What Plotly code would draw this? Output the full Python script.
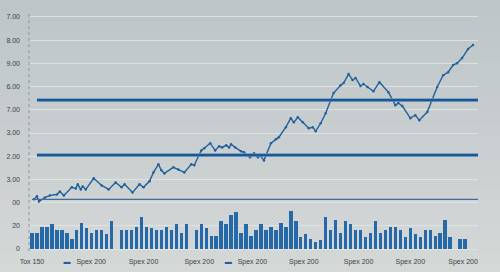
import plotly.graph_objects as go

# ---------------- data ----------------
y_tick_vals = [0, 1, 2, 3, 4, 5, 6, 7, 8, 9, 10]
y_tick_text = ["0", "20", "00", "3.00", "2.00", "3.00", "7.00", "6.00", "9.00", "8.00", "7.00"]

x_tick_vals = [0, 53, 112, 168, 215, 273, 328, 380, 433]
x_tick_text = ["Tox 150", "<span style='color:#1f5f9a'>\u25ac</span>   Spex 200", "Spex 200", "Spex 200",
               "<span style='color:#1f5f9a'>\u25ac</span>   Spex 200", "Spex 200", "Spex 200", "Spex 200", "Spex 200"]

line_days = [2, 5, 7, 13, 18, 25, 28, 32, 40, 44, 46, 49, 51, 54, 62, 70, 77, 84, 90, 93,
             101, 108, 112, 118, 122, 127, 130, 133, 142, 147, 153, 160, 163, 170, 173, 179, 184, 188, 191, 195,
             198, 200, 204, 210, 213, 219, 223, 227, 229, 233, 240, 245, 248, 255, 260, 263, 267, 272, 278, 282,
             285, 290, 295, 300, 303, 310, 313, 318, 322, 325, 330, 333, 337, 343, 349, 358, 365, 368, 372, 380,
             385, 389, 397, 402, 407, 413, 418, 423, 427, 432, 438, 443]
line_vals = [2.14, 2.27, 2.05, 2.22, 2.31, 2.35, 2.48, 2.31, 2.66, 2.61, 2.79, 2.57, 2.70, 2.57, 3.05, 2.74, 2.57, 2.87, 2.66, 2.79,
             2.44, 2.79, 2.66, 2.92, 3.30, 3.65, 3.39, 3.26, 3.52, 3.43, 3.30, 3.65, 3.61, 4.25, 4.34, 4.56, 4.25, 4.43, 4.38, 4.47,
             4.38, 4.51, 4.38, 4.21, 4.17, 3.95, 4.13, 3.95, 4.04, 3.82, 4.56, 4.73, 4.82, 5.25, 5.64, 5.46, 5.68, 5.46, 5.21, 5.25,
             5.08, 5.42, 5.85, 6.41, 6.72, 7.06, 7.15, 7.54, 7.28, 7.37, 7.02, 7.11, 6.98, 6.80, 7.19, 6.76, 6.20, 6.29, 6.16, 5.64,
             5.77, 5.55, 5.90, 6.41, 6.98, 7.49, 7.62, 7.93, 8.01, 8.23, 8.62, 8.79]

bar_days = [0, 5, 10, 15, 20, 25, 30, 35, 40, 45, 50, 55, 60, 65, 70, 75, 80, 85, 90, 95,
            100, 105, 110, 115, 120, 125, 130, 135, 140, 145, 150, 155, 160, 165, 170, 175, 180, 185, 190, 195,
            200, 205, 210, 215, 220, 225, 230, 235, 240, 245, 250, 255, 260, 265, 270, 275, 280, 285, 290, 295,
            300, 305, 310, 315, 320, 325, 330, 335, 340, 345, 350, 355, 360, 365, 370, 375, 380, 385, 390, 395,
            400, 405, 410, 415, 420, 425, 430, 435]
bar_vals = [0.71, 0.71, 0.93, 0.93, 1.06, 0.80, 0.84, 0.67, 0.45, 0.84, 1.14, 0.89, 0.67, 0.84, 0.84, 0.63, 1.19, None, 0.84, 0.84,
            0.80, 0.93, 1.40, 0.97, 0.89, 0.84, 0.84, 0.97, 0.84, 1.10, 0.67, 1.10, None, 0.80, 1.06, 0.89, 0.58, 0.58, 1.19, 1.06,
            1.45, 1.58, 0.71, 1.10, 0.58, 0.80, 1.06, 0.84, 0.97, 0.84, 1.14, 0.93, 1.62, 1.19, 0.50, 0.63, 0.45, 0.32, 0.37, 1.36,
            0.84, 1.27, 0.67, 1.19, 1.06, 0.80, 0.84, 0.54, 0.71, 1.19, 0.71, 0.80, 0.97, 0.93, 0.84, 0.54, 0.89, 0.63, 0.50, 0.80,
            0.80, 0.58, 0.67, 1.27, 0.50, None, 0.45, 0.45]

thick_levels = [6.42, 4.05]
thin_level = 2.14
ref_start = [5, 0]

# ---------------- figure ----------------
fig = go.Figure()

fig.add_trace(go.Bar(x=bar_days, y=bar_vals, width=3.4,
                     marker=dict(color="#2669a8", line=dict(width=0)), showlegend=False))

fig.add_trace(go.Scatter(x=line_days, y=line_vals, mode="lines+markers",
                         line=dict(color="#22609c", width=1.4),
                         marker=dict(size=2.5, color="#22609c"), showlegend=False))

shapes = []
# background gradient (decorative)
top_c = (188, 197, 200)
bot_c = (214, 217, 216)
n = 24
for i in range(n):
    t = i / (n - 1)
    c = tuple(int(top_c[j] + (bot_c[j] - top_c[j]) * t) for j in range(3))
    shapes.append(dict(type="rect", xref="paper", yref="paper", x0=-0.1, x1=1.1,
                       y0=1.1 - (i + 1) * 1.25 / n, y1=1.1 - i * 1.25 / n + 0.01,
                       fillcolor="rgb(%d,%d,%d)" % c, line=dict(width=0), layer="below"))
# dotted y axis line
shapes.append(dict(type="line", xref="paper", yref="paper", x0=0, x1=0, y0=0.02, y1=0.985,
                   line=dict(color="#8e9598", width=1, dash="dot"), layer="above"))
for lvl in thick_levels:
    shapes.append(dict(type="line", xref="x", yref="y", x0=ref_start[0], x1=448, y0=lvl, y1=lvl,
                       line=dict(color="#6b97bf", width=3.6), layer="above"))
    shapes.append(dict(type="line", xref="x", yref="y", x0=ref_start[0], x1=448, y0=lvl, y1=lvl,
                       line=dict(color="#1b5790", width=2.2), layer="above"))
shapes.append(dict(type="line", xref="x", yref="y", x0=ref_start[1], x1=448, y0=thin_level, y1=thin_level,
                   line=dict(color="#3c6e9d", width=1.3), layer="above"))

fig.update_layout(
    width=500, height=272,
    margin=dict(l=29, r=22, t=10, b=16),
    paper_bgcolor="#c9cfd0",
    plot_bgcolor="rgba(0,0,0,0)",
    shapes=shapes,
    bargap=0,
    font=dict(family="Liberation Sans, Arial, sans-serif", size=7, color="#3b4347"),
    xaxis=dict(range=[-3, 448], tickvals=x_tick_vals, ticktext=x_tick_text, automargin=False,
               showgrid=False, zeroline=False, showline=False, ticks="", ticklabelstandoff=0),
    yaxis=dict(range=[-0.3, 10.3], tickvals=y_tick_vals, ticktext=y_tick_text, automargin=False,
               showgrid=True, gridcolor="rgba(225,229,230,0.85)", gridwidth=1,
               zeroline=False, showline=False, ticks="", ticklabelstandoff=8),
)

fig.write_html("out.html")
